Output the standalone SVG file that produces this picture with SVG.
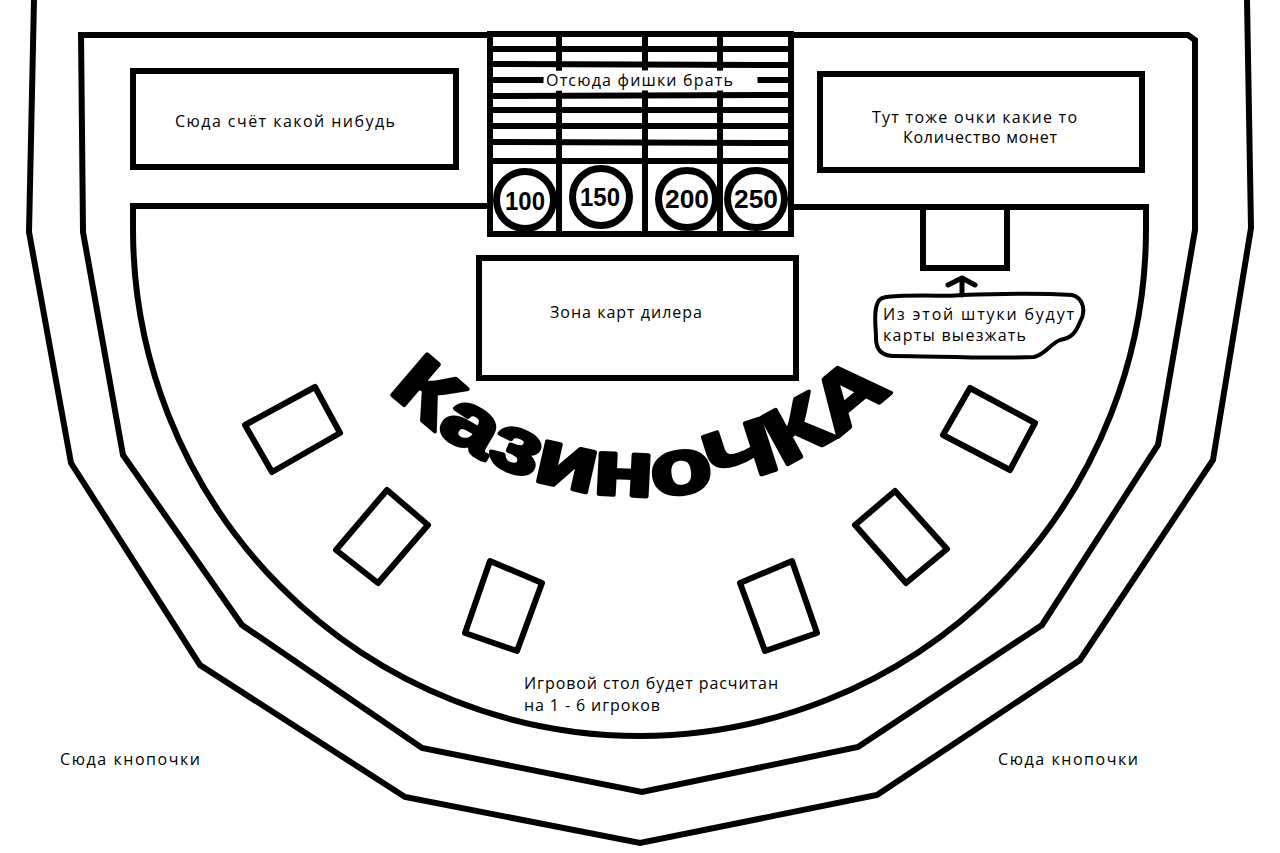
<svg xmlns="http://www.w3.org/2000/svg" width="1280" height="853" viewBox="0 0 1280 853">
<defs>
<style>
.ln{fill:none;stroke:#000;stroke-width:6;stroke-linejoin:miter;stroke-linecap:butt}
.box{fill:#fff;stroke:#000;stroke-width:6}
.bar{stroke:#000;stroke-width:6}
.t{font-family:"Open Sans","Noto Sans","DejaVu Sans",sans-serif;font-size:16px;fill:#000}
.chip{font-family:"Liberation Sans","DejaVu Sans",sans-serif;font-weight:bold;font-size:26px;fill:#000;text-anchor:middle}
.card{fill:#fff;stroke:#000;stroke-width:6;stroke-linejoin:round}
</style>
<path id="arc" d="M372,372 A352,352 0 0 0 908,372"/>
</defs>
<rect width="1280" height="853" fill="#fff"/>

<g id="table-outline">
<polyline class="ln" points="34,0 29,232 71,463 200,665 405,797 640,843 877,795 1080,660 1213,460 1251,228 1247,0"/>
<polyline class="ln" points="81,32 83,232 123,455 242,625 422,748 642,792 858,747 1042,625 1158,445 1195,230 1195,40 1188,35 81,35"/>
<path class="ln" d="M487,206 L133,206 L133,228 A507,507 0 0 0 640,736 A507,507 0 0 0 1146,228 L1146,207 L791,207"/>
</g>

<g id="score-left">
<rect class="box" x="133" y="71" width="323" height="96"/>
<text class="t" x="175" y="127" textLength="220">Сюда счёт какой нибудь</text>
</g>

<g id="score-right">
<rect class="box" x="820" y="74" width="322" height="96"/>
<text class="t" x="872" y="123" textLength="205">Тут тоже очки какие то</text>
<text class="t" x="903" y="143" textLength="154">Количество монет</text>
</g>

<g id="chip-rack">
<rect x="490" y="34" width="301" height="200" fill="#fff"/>
<g class="bar">
<line x1="490" y1="49" x2="791" y2="49"/>
<line x1="490" y1="64" x2="791" y2="65"/>
<line x1="490" y1="80" x2="791" y2="80"/>
<line x1="490" y1="96" x2="791" y2="95"/>
<line x1="490" y1="110" x2="791" y2="110"/>
<line x1="490" y1="126" x2="791" y2="126"/>
<line x1="490" y1="142" x2="791" y2="143"/>
<line x1="490" y1="161" x2="791" y2="161"/>
<line x1="559" y1="34" x2="559" y2="234"/>
<line x1="645" y1="34" x2="645" y2="234"/>
<line x1="720" y1="34" x2="720" y2="234"/>
</g>
<path d="M544,71 L600,70 L700,71 L757,70 L758,90 L690,91 L600,90 L543,91 Z" fill="#fff"/>
<text class="t" x="546" y="86" textLength="187">Отсюда фишки брать</text>
<g fill="#fff" stroke="#000" stroke-width="7">
<circle cx="525" cy="200" r="28.5"/>
<circle cx="601" cy="197" r="28.5"/>
<circle cx="687" cy="199" r="28.5"/>
<circle cx="756" cy="199" r="28.5"/>
</g>
<text class="chip" x="525" y="210" textLength="40" lengthAdjust="spacingAndGlyphs">100</text>
<text class="chip" x="600" y="206" textLength="40" lengthAdjust="spacingAndGlyphs">150</text>
<text class="chip" x="687" y="208" textLength="44" lengthAdjust="spacingAndGlyphs">200</text>
<text class="chip" x="756" y="208" textLength="44" lengthAdjust="spacingAndGlyphs">250</text>
<rect class="ln" x="490" y="34" width="301" height="200"/>
</g>

<g id="dealer-zone">
<rect class="box" x="479" y="258" width="317" height="120"/>
<text class="t" x="550" y="318" textLength="152">Зона карт дилера</text>
</g>

<g id="card-shoe">
<rect class="box" x="923" y="207" width="84" height="61"/>
</g>

<g id="note-bubble">
<path d="M886,297 C920,294 950,297 962,295 C990,294 1040,293 1072,295 C1084,298 1086,312 1080,322 C1076,332 1072,338 1060,340 C1050,344 1046,354 1034,357 C990,359 930,356 894,356 C880,356 876,348 876,338 C876,328 874,318 876,308 C878,300 880,298 886,297 Z" fill="#fff" stroke="#000" stroke-width="4" stroke-linejoin="round"/>
<text class="t" x="883" y="320" textLength="191">Из этой штуки будут</text>
<text class="t" x="883" y="341" textLength="143">карты выезжать</text>
</g>

<g id="connectors">
<path d="M962,295 L962,279 M948,285 L962,278 L975,285" fill="none" stroke="#000" stroke-width="5" stroke-linecap="round" stroke-linejoin="round"/>
</g>

<g id="player-spots">
<polygon class="card" points="245,425 315,387 340,433 272,472"/>
<polygon class="card" points="387,490 428,525 378,583 336,550"/>
<polygon class="card" points="490,561 542,583 517,651 465,633"/>
<polygon class="card" points="792,561 740,583 765,651 817,633"/>
<polygon class="card" points="970,388 1035,423 1010,470 943,435"/>
<polygon class="card" points="895,491 947,549 906,583 855,525"/>
</g>

<g id="title">
<text font-family="'Liberation Sans','DejaVu Sans',sans-serif" font-weight="bold" font-size="78" fill="#000" stroke="#000" stroke-width="4" stroke-linejoin="round"><textPath href="#arc" startOffset="50%" text-anchor="middle" textLength="560" lengthAdjust="spacingAndGlyphs">КазиноЧКА</textPath></text>
</g>

<g id="notes">
<text class="t" x="524" y="689" textLength="254">Игровой стол будет расчитан</text>
<text class="t" x="524" y="711" textLength="136">на 1 - 6 игроков</text>
<text class="t" x="60" y="765" textLength="140">Сюда кнопочки</text>
<text class="t" x="998" y="765" textLength="140">Сюда кнопочки</text>
</g>
</svg>
